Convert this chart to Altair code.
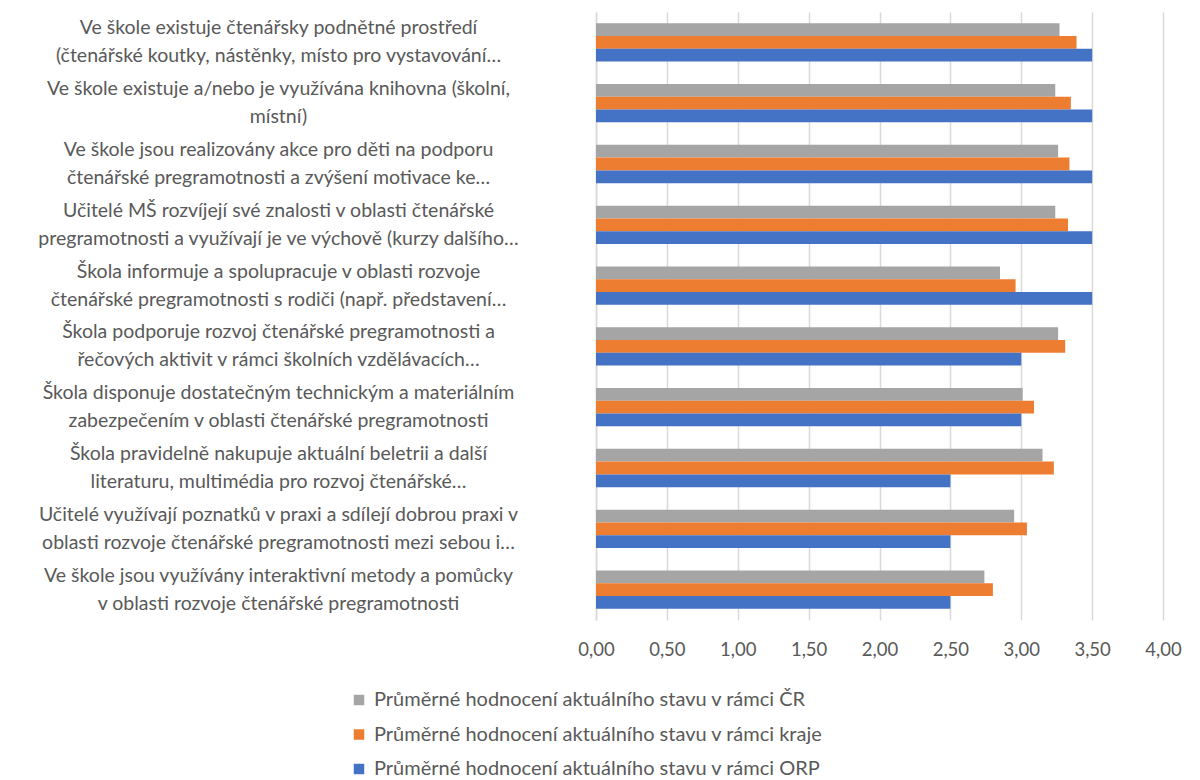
import altair as alt
import pandas as pd

categories = [
    "Ve škole existuje čtenářsky podnětné prostředí|(čtenářské koutky, nástěnky, místo pro vystavování…",
    "Ve škole existuje a/nebo je využívána knihovna (školní,|místní)",
    "Ve škole jsou realizovány akce pro děti na podporu|čtenářské pregramotnosti a zvýšení motivace ke…",
    "Učitelé MŠ rozvíjejí své znalosti v oblasti čtenářské|pregramotnosti a využívají je ve výchově (kurzy dalšího…",
    "Škola informuje a spolupracuje v oblasti rozvoje|čtenářské pregramotnosti s rodiči (např. představení…",
    "Škola podporuje rozvoj čtenářské pregramotnosti a|řečových aktivit v rámci školních vzdělávacích…",
    "Škola disponuje dostatečným technickým a materiálním|zabezpečením v oblasti čtenářské pregramotnosti",
    "Škola pravidelně nakupuje aktuální beletrii a další|literaturu, multimédia pro rozvoj čtenářské…",
    "Učitelé využívají poznatků v praxi a sdílejí dobrou praxi v|oblasti rozvoje čtenářské pregramotnosti mezi sebou i…",
    "Ve škole jsou využívány interaktivní metody a pomůcky|v oblasti rozvoje čtenářské pregramotnosti",
]

series = [
    "Průměrné hodnocení aktuálního stavu v rámci ČR",
    "Průměrné hodnocení aktuálního stavu v rámci kraje",
    "Průměrné hodnocení aktuálního stavu v rámci ORP",
]

values_cr = [3.27, 3.24, 3.26, 3.24, 2.85, 3.26, 3.01, 3.15, 2.95, 2.74]
values_kraj = [3.39, 3.35, 3.34, 3.33, 2.96, 3.31, 3.09, 3.23, 3.04, 2.80]
values_orp = [3.50, 3.50, 3.50, 3.50, 3.50, 3.00, 3.00, 2.50, 2.50, 2.50]

colors = ["#A5A5A5", "#ED7D31", "#4472C4"]
x_ticks = [0, 0.5, 1, 1.5, 2, 2.5, 3, 3.5, 4]

rows = []
for s, vals in zip(series, [values_cr, values_kraj, values_orp]):
    for c, v in zip(categories, vals):
        rows.append({"kategorie": c, "serie": s, "hodnota": v})
df = pd.DataFrame(rows)

FONT = "Lato"
TXT = "#595959"

bars = alt.Chart(df).mark_bar().encode(
    y=alt.Y(
        "kategorie:N",
        sort=categories,
        scale=alt.Scale(paddingInner=0.37, paddingOuter=0.185),
        axis=alt.Axis(
            title=None,
            ticks=False,
            domain=True,
            domainColor="#d9d9d9",
            domainWidth=1.5,
            grid=False,
            labelExpr="split(datum.label, '|')",
            labelAlign="center",
            labelBaseline="middle",
            labelPadding=318,
            labelOffset=-14,
            labelFont=FONT,
            labelFontSize=19.5,
            labelColor=TXT,
            labelLineHeight=28,
            labelLimit=0,
        ),
    ),
    yOffset=alt.YOffset("serie:N", sort=series, scale=alt.Scale(paddingInner=0, paddingOuter=0)),
    x=alt.X(
        "hodnota:Q",
        scale=alt.Scale(domain=[0, 4], nice=False),
        axis=alt.Axis(
            title=None,
            values=x_ticks,
            ticks=False,
            domain=False,
            grid=True,
            gridColor="#d9d9d9",
            gridWidth=1.5,
            labelFlush=False,
            labelExpr="replace(format(datum.value, '.2f'), '.', ',')",
            labelFont=FONT,
            labelFontSize=18.5,
            labelColor=TXT,
            labelPadding=20,
        ),
    ),
    color=alt.Color(
        "serie:N",
        sort=series,
        scale=alt.Scale(domain=series, range=colors),
        legend=alt.Legend(
            title=None,
            orient="none",
            direction="vertical",
            legendX=-247,
            legendY=678,
            symbolType="square",
            symbolSize=110,
            symbolStrokeWidth=0,
            labelFont=FONT,
            labelFontSize=20,
            labelColor=TXT,
            rowPadding=14.5,
            labelOffset=5,
            labelLimit=0,
        ),
    ),
)

frame = alt.Chart(pd.DataFrame({"a": [0]})).mark_rule(color="#d0d0d0", strokeWidth=2).encode(
    x=alt.value(-590), y=alt.value(-20), y2=alt.value(790)
)

chart = alt.layer(frame, bars).properties(
    width=567,
    height=608,
    autosize="none",
    padding={"left": 588, "top": 4, "right": 20, "bottom": 168},
).configure_view(stroke=None)

chart.save("out.html", embed_options={"renderer": "svg", "actions": False})
